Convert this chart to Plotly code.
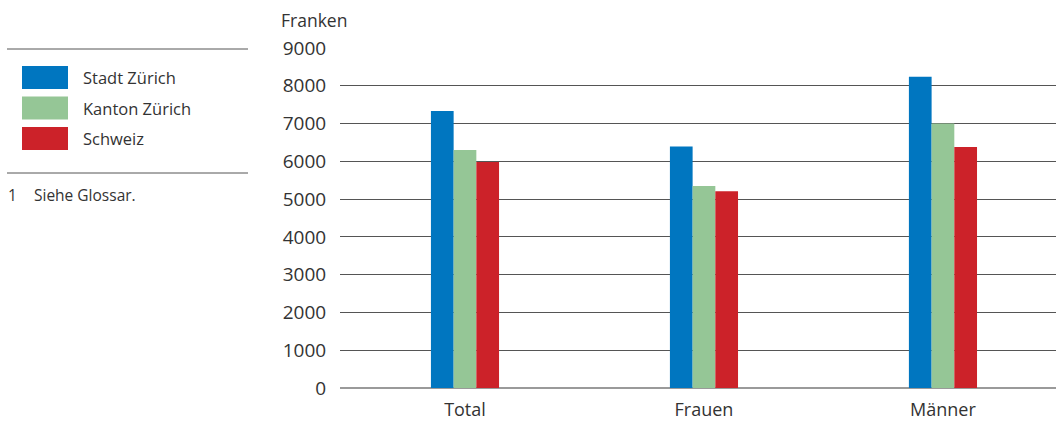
import plotly.graph_objects as go

# ---------------------------------------------------------------------------
# Data
# ---------------------------------------------------------------------------
categories = ["Total", "Frauen", "Männer"]
series_names = ["Stadt Zürich", "Kanton Zürich", "Schweiz"]
stadt_zuerich = [7330, 6390, 8240]
kanton_zuerich = [6300, 5350, 7000]
schweiz = [5980, 5210, 6380]
y_ticks = [0, 1000, 2000, 3000, 4000, 5000, 6000, 7000, 8000, 9000]

COLORS = ["#0076c0", "#95c696", "#cc2229"]
FONT = "Open Sans, Noto Sans, sans-serif"
TEXT = "#333333"

W, H = 1056, 421
L, R, T, B = 340, 0, 48, 33


def px_to_paper(px):
    return (px - L) / (W - L - R)


def py_to_paper(py):
    return (H - B - py) / (H - T - B)


fig = go.Figure()
for name, vals, color in zip(series_names, [stadt_zuerich, kanton_zuerich, schweiz], COLORS):
    fig.add_trace(go.Bar(
        x=categories,
        y=vals,
        name=name,
        marker_color=color,
        marker_line_width=0,
        showlegend=False,
    ))

# Legend block on the left (drawn manually to match swatch size)
shapes = []
annotations = []
for i, (name, color) in enumerate(zip(series_names, COLORS)):
    top = 66 + i * 30.5
    shapes.append(dict(
        type="rect", xref="paper", yref="paper",
        x0=px_to_paper(22), x1=px_to_paper(68),
        y0=py_to_paper(top + 23), y1=py_to_paper(top),
        fillcolor=color, line_width=0, layer="above",
    ))
    annotations.append(dict(
        text=name, xref="paper", yref="paper",
        x=px_to_paper(81), y=py_to_paper(top + 11.5),
        xanchor="left", yanchor="middle", showarrow=False,
        font=dict(size=16.5, color=TEXT, family=FONT),
    ))

for yline in [49, 173]:
    shapes.append(dict(
        type="line", xref="paper", yref="paper",
        x0=px_to_paper(7), x1=px_to_paper(248),
        y0=py_to_paper(yline), y1=py_to_paper(yline),
        line=dict(color="#555555", width=1),
    ))

# footnote
for txt, xpx in [("1", 6), ("Siehe Glossar.", 32)]:
    annotations.append(dict(
        text=txt, xref="paper", yref="paper",
        x=px_to_paper(xpx), y=py_to_paper(195),
        xanchor="left", yanchor="middle", showarrow=False,
        font=dict(size=15.5, color=TEXT, family=FONT),
    ))

annotations.append(dict(
    text="Franken", xref="paper", yref="paper",
    x=px_to_paper(279), y=py_to_paper(20),
    xanchor="left", yanchor="middle", showarrow=False,
    font=dict(size=17.5, color=TEXT, family=FONT),
))

fig.update_layout(
    width=W, height=H,
    margin=dict(l=L, r=R, t=T, b=B, pad=0),
    barmode="group",
    bargap=0.715,
    bargroupgap=0,
    plot_bgcolor="white",
    paper_bgcolor="white",
    font=dict(family=FONT, size=16, color=TEXT),
    shapes=shapes,
    annotations=annotations,
    showlegend=False,
)

fig.update_xaxes(
    range=[-0.523, 2.473],
    showgrid=False,
    showline=False,
    ticks="",
    tickfont=dict(size=18, color=TEXT),
    ticklabelstandoff=9,
)

fig.update_yaxes(
    range=[0, 9000],
    tickvals=y_ticks,
    showgrid=True,
    gridcolor="#555555",
    gridwidth=1,
    zeroline=True,
    zerolinecolor="#9a9a9a",
    zerolinewidth=2,
    showline=False,
    ticks="outside",
    ticklen=9,
    tickcolor="rgba(0,0,0,0)",
    tickfont=dict(size=19, color=TEXT),
)

# remove the default page margin so the figure sits at the window's corner
fig.write_html(
    "out.html",
    config={"displayModeBar": False},
    post_script="document.body.style.margin='0';",
)
